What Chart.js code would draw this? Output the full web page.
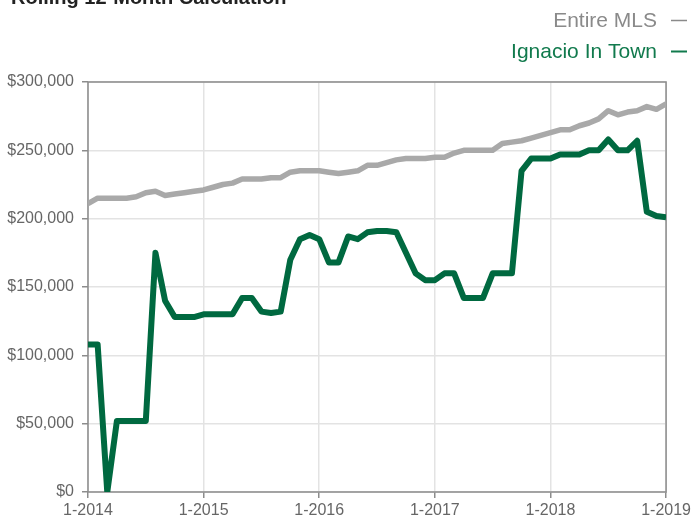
<!DOCTYPE html>
<html>
<head>
<meta charset="utf-8">
<script src="https://cdn.jsdelivr.net/npm/chart.js@4/dist/chart.umd.min.js"></script>
<style>
html,body{margin:0;padding:0;background:#fff;}
#wrap{position:relative;width:694px;height:522px;}
</style>
</head>
<body>
<div id="wrap"><canvas id="c" width="694" height="522"></canvas></div>
<script>
// Month index 0 = Jan 2014 ... 60 = Jan 2019
const yearTickLabels = ['1-2014','1-2015','1-2016','1-2017','1-2018','1-2019'];
const seriesNames = ['Entire MLS','Ignacio In Town'];
const entireMLS = [
  211000,215000,215000,215000,215000,216000,219000,220000,217000,218000,219000,220000,
  221000,223000,225000,226000,229000,229000,229000,230000,230000,234000,235000,235000,
  235000,234000,233000,234000,235000,239000,239000,241000,243000,244000,244000,244000,
  245000,245000,248000,250000,250000,250000,250000,255000,256000,257000,259000,261000,
  263000,265000,265000,268000,270000,273000,279000,276000,278000,279000,282000,280000,
  284000
];
const ignacioInTown = [
  108000,108000,0,52000,52000,52000,52000,175000,140000,128000,128000,128000,
  130000,130000,130000,130000,142000,142000,132000,131000,132000,170000,185000,188000,
  185000,168000,168000,187000,185000,190000,191000,191000,190000,175000,160000,155000,
  155000,160000,160000,142000,142000,142000,160000,160000,160000,235000,244000,244000,
  244000,247000,247000,247000,250000,250000,258000,250000,250000,257000,205000,202000,
  201000
];
const yTicks = [0,50000,100000,150000,200000,250000,300000];

const FONT = "'Liberation Sans', Arial, Helvetica, sans-serif";
const GREEN = '#006940';
const GREY = '#a9a9a9';

function toPoints(arr){ return arr.map((v,i)=>({x:i,y:v})); }

const frame = {
  id:'frame',
  beforeDatasetsDraw(chart){
    const {ctx, chartArea:a} = chart;
    ctx.save();
    ctx.strokeStyle = '#8c8c8c';
    ctx.lineWidth = 1.5;
    ctx.strokeRect(a.left, a.top, a.right-a.left, a.bottom-a.top);
    ctx.restore();
  },
  afterDraw(chart){
    const ctx = chart.ctx;
    ctx.save();
    ctx.fillStyle = '#222';
    ctx.font = "bold 20px " + FONT;
    ctx.textBaseline = 'alphabetic';
    ctx.textAlign = 'left';
    ctx.fillText('Rolling 12-Month Calculation', 11, 4);
    ctx.font = "21px " + FONT;
    ctx.textAlign = 'right';
    ctx.fillStyle = '#8a8a8a';
    ctx.fillText(seriesNames[0], 657, 27);
    ctx.fillStyle = '#117a4d';
    ctx.fillText(seriesNames[1], 657, 57.5);
    ctx.strokeStyle = '#8a8a8a';
    ctx.lineWidth = 1.5;
    ctx.beginPath(); ctx.moveTo(671,20.5); ctx.lineTo(687,20.5); ctx.stroke();
    ctx.strokeStyle = '#117a4d';
    ctx.lineWidth = 2;
    ctx.beginPath(); ctx.moveTo(671,51.5); ctx.lineTo(687,51.5); ctx.stroke();
    ctx.restore();
  }
};

new Chart(document.getElementById('c'), {
  type:'line',
  data:{
    datasets:[
      {label:seriesNames[0], data:toPoints(entireMLS), borderColor:GREY, borderWidth:5.5, borderJoinStyle:'round', pointRadius:0, tension:0, order:2},
      {label:seriesNames[1], data:toPoints(ignacioInTown), borderColor:GREEN, borderWidth:6, borderJoinStyle:'round', pointRadius:0, tension:0, order:1}
    ]
  },
  options:{
    responsive:false,
    animation:false,
    layout:{padding:{left:0,right:26,top:82,bottom:0}},
    plugins:{legend:{display:false}, title:{display:false}, tooltip:{enabled:false}},
    scales:{
      x:{
        type:'linear', min:0, max:60,
        afterBuildTicks(scale){ scale.ticks = yearTickLabels.map((l,i)=>({value:i*12})); },
        afterFit(scale){ scale.height = 30; },
        ticks:{
          callback:(v)=>yearTickLabels[Math.round(v/12)],
          color:'#666', font:{family:FONT, size:16}, padding:3, maxRotation:0, autoSkip:false
        },
        grid:{color:'#e3e3e3', lineWidth:1.5, tickLength:6, tickColor:'#8c8c8c'},
        border:{display:false}
      },
      y:{
        min:0, max:300000,
        afterBuildTicks(scale){ scale.ticks = yTicks.map(v=>({value:v})); },
        afterFit(scale){ scale.width = 88; },
        ticks:{
          callback:(v)=>'$'+Number(v).toLocaleString('en-US'),
          color:'#666', font:{family:FONT, size:16}, padding:8
        },
        grid:{color:'#e3e3e3', lineWidth:1.5, tickLength:6, tickColor:'#8c8c8c'},
        border:{display:false}
      }
    }
  },
  plugins:[frame]
});
</script>
</body>
</html>
